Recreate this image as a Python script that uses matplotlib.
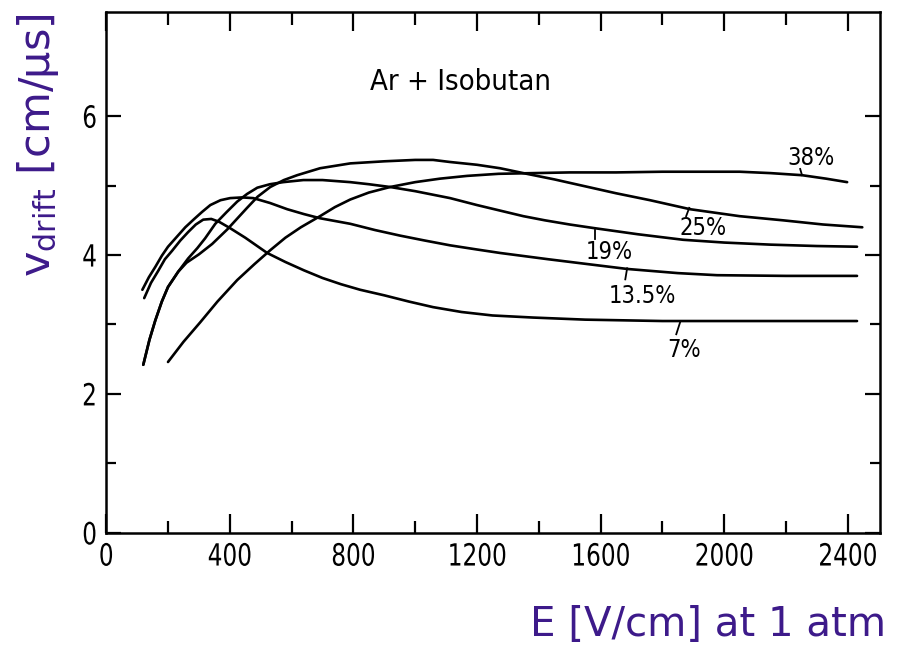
import matplotlib
matplotlib.use("Agg")
import matplotlib.pyplot as plt
from matplotlib.patheffects import AbstractPathEffect
from matplotlib.transforms import Affine2D

# drift velocity of Ar + isobutane mixtures
E_7 = [123, 145, 168, 190, 213, 240, 265, 290, 314, 340, 365, 400, 450, 521, 580, 640, 700, 760,
       822, 900, 980, 1058, 1150, 1250, 1382, 1550, 1800, 2100, 2430]
v_7 = [3.38, 3.60, 3.77, 3.94, 4.06, 4.21, 4.33, 4.44, 4.51, 4.52, 4.48, 4.39, 4.25, 4.03, 3.90, 3.78, 3.67, 3.58,
       3.50, 3.42, 3.33, 3.25, 3.18, 3.13, 3.10, 3.07, 3.05, 3.05, 3.05]

E_135 = [117, 138, 159, 180, 200, 228, 256, 285, 310, 337, 370, 401, 440, 476, 530, 586, 640, 692, 790,
         870, 951, 1030, 1113, 1200, 1275, 1430, 1576, 1686, 1850, 1977, 2200, 2430]
v_135 = [3.50, 3.68, 3.83, 3.99, 4.12, 4.26, 4.40, 4.52, 4.62, 4.72, 4.79, 4.82, 4.83, 4.82, 4.75, 4.66, 4.59, 4.53, 4.45,
         4.36, 4.28, 4.21, 4.14, 4.08, 4.03, 3.94, 3.86, 3.80, 3.74, 3.71, 3.70, 3.70]

E_19 = [120, 140, 159, 180, 200, 218, 233, 265, 295, 320, 353, 390, 424, 456, 489, 530, 573, 638, 700, 790,
        850, 919, 1000, 1113, 1200, 1275, 1350, 1420, 1500, 1576, 1720, 1867, 2000, 2150, 2300, 2430]
v_19 = [2.42, 2.78, 3.06, 3.33, 3.54, 3.66, 3.76, 3.95, 4.10, 4.24, 4.45, 4.62, 4.77, 4.88, 4.97, 5.02, 5.05, 5.08, 5.08, 5.05,
        5.02, 4.98, 4.92, 4.82, 4.72, 4.64, 4.56, 4.50, 4.44, 4.39, 4.30, 4.22, 4.18, 4.15, 4.13, 4.12]

E_25 = [120, 140, 159, 180, 200, 218, 233, 260, 300, 343, 392, 425, 456, 490, 531, 575, 618, 692, 790, 900,
        1000, 1058, 1113, 1200, 1275, 1350, 1450, 1550, 1650, 1760, 1890, 2050, 2191, 2320, 2447]
v_25 = [2.42, 2.78, 3.06, 3.33, 3.54, 3.66, 3.76, 3.89, 4.01, 4.16, 4.37, 4.53, 4.68, 4.84, 4.98, 5.08, 5.15, 5.25, 5.32, 5.35,
        5.37, 5.37, 5.34, 5.30, 5.25, 5.18, 5.09, 4.99, 4.89, 4.79, 4.66, 4.56, 4.50, 4.44, 4.40]

E_38 = [200, 250, 304, 360, 424, 480, 531, 580, 630, 692, 740, 790, 850, 919, 1000, 1080, 1168, 1270, 1382,
        1500, 1650, 1800, 1922, 2050, 2150, 2252, 2330, 2398]
v_38 = [2.46, 2.75, 3.03, 3.33, 3.64, 3.87, 4.07, 4.25, 4.40, 4.56, 4.69, 4.80, 4.90, 4.98, 5.05, 5.10, 5.14, 5.17, 5.18,
        5.19, 5.19, 5.20, 5.20, 5.20, 5.18, 5.15, 5.10, 5.05]

curves = [(E_7, v_7), (E_135, v_135), (E_19, v_19), (E_25, v_25), (E_38, v_38)]

# curve labels: text, text position, small pointer line (from curve outward)
labels = ["7%", "13.5%", "19%", "25%", "38%"]
label_E = [1870, 1735, 1628, 1932, 2282]
label_v = [2.63, 3.41, 4.04, 4.39, 5.40]
pointer_E = [(1858, 1845), (1686, 1680), (1582, 1582), (1887, 1877), (2252, 2246)]
pointer_v = [(3.04, 2.86), (3.81, 3.65), (4.36, 4.23), (4.68, 4.56), (5.15, 5.24)]

x_ticks = [0, 400, 800, 1200, 1600, 2000, 2400]
y_ticks = [0, 2, 4, 6]

purple = "#3d1a8a"
narrow = dict(family="DejaVu Sans", stretch="condensed")


class Squeeze(AbstractPathEffect):
    # narrow the glyphs around their centre, the scan uses a condensed face
    def __init__(self, sx):
        super().__init__()
        self.sx = sx

    def draw_path(self, renderer, gc, tpath, affine, rgbFace=None):
        ext = tpath.get_extents()
        cx = 0.5 * (ext.x0 + ext.x1)
        t = Affine2D().translate(-cx, 0).scale(self.sx, 1).translate(cx, 0) + affine
        renderer.draw_path(gc, tpath, t, rgbFace)


fig = plt.figure(figsize=(9, 6.49), dpi=100)
ax = fig.add_axes([0.118, 0.179, 0.860, 0.8025])

for E, v in curves:
    ax.plot(E, v, color="black", lw=1.9, solid_capstyle="round", solid_joinstyle="round")

for txt, te, tv, pe, pv in zip(labels, label_E, label_v, pointer_E, pointer_v):
    ax.plot(pe, pv, color="black", lw=1.3)
    ax.text(te, tv, txt, ha="center", va="center", fontsize=17, **narrow)

ax.text(1146, 6.49, "Ar + Isobutan", ha="center", va="center", fontsize=21, **narrow)

ax.set_xlim(0, 2505)
ax.set_ylim(0, 7.5)
ax.set_xticks(x_ticks)
ax.set_xticks(range(200, 2500, 400), minor=True)
ax.set_yticks(y_ticks)
ax.set_yticks([1, 3, 5], minor=True)
ax.set_xticklabels([str(t) for t in x_ticks], fontsize=22)
ax.set_yticklabels([str(t) for t in y_ticks], fontsize=22)
for lab in ax.get_xticklabels() + ax.get_yticklabels():
    lab.set_path_effects([Squeeze(0.76)])

ax.tick_params(which="both", direction="in", top=True, right=True, width=1.6, color="black")
ax.tick_params(axis="x", which="major", length=14, pad=7)
ax.tick_params(axis="x", which="minor", length=9)
ax.tick_params(axis="y", which="major", length=11, pad=5)
ax.tick_params(axis="y", which="minor", length=7)
for s in ax.spines.values():
    s.set_linewidth(1.8)

ax.set_ylabel(r"v$_{\mathregular{drift}}$ [cm/µs]", fontsize=31, color=purple)
ax.yaxis.set_label_coords(-0.058, 0.745)

fig.text(0.984, 0.006, "E [V/cm] at 1 atm", ha="right", va="bottom", fontsize=29, color=purple)

fig.savefig("out.png", dpi=100)
plt.close()
